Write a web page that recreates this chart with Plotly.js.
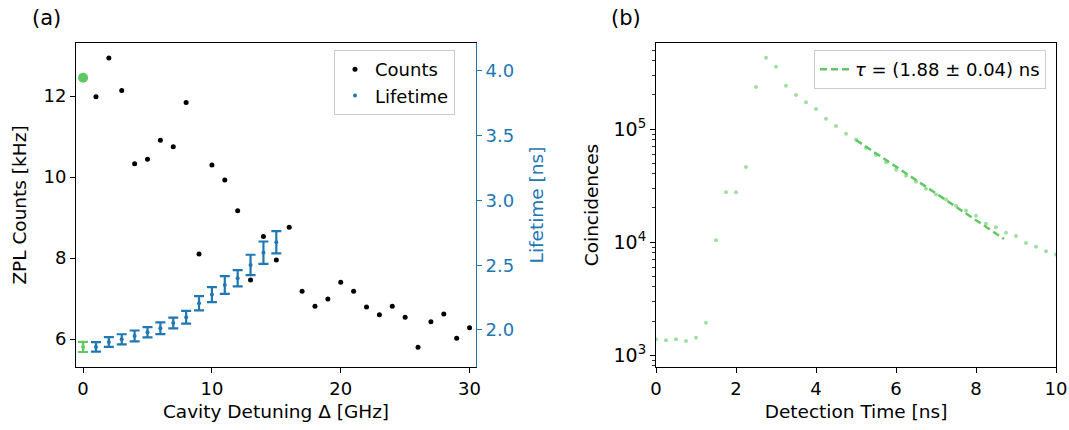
<!DOCTYPE html>
<html>
<head>
<meta charset="utf-8">
<script src="https://cdn.plot.ly/plotly-3.0.1.min.js"></script>
<style>
html,body{margin:0;padding:0;background:#fff;}
#chart{width:1069px;height:430px;}
</style>
</head>
<body>
<div id="chart"></div>
<script>
// ---------- Panel (a) data ----------
const detuning = [1,2,3,4,5,6,7,8,9,10,11,12,13,14,15,16,17,18,19,20,21,22,23,24,25,26,27,28,29,30];
const counts = [11.98,12.94,12.14,10.33,10.44,10.91,10.75,11.84,8.10,10.30,9.93,9.17,7.46,8.53,7.95,8.76,7.18,6.81,6.99,7.40,7.18,6.79,6.60,6.81,6.54,5.80,6.43,6.62,6.02,6.28];
const lifetimeDetuning = [1,2,3,4,5,6,7,8,9,10,11,12,13,14,15];
const lifetime = [1.869,1.907,1.928,1.954,1.982,2.013,2.054,2.098,2.206,2.273,2.347,2.399,2.502,2.597,2.677];
const lifetimeErr = [0.037,0.037,0.039,0.042,0.040,0.045,0.041,0.049,0.055,0.058,0.068,0.063,0.079,0.086,0.086];
const refDetuning = [0];
const refCounts = [12.45];
const refLifetime = [1.869];
const refLifetimeErr = [0.039];

// ---------- Panel (b) data ----------
const detTime = [0,0.25,0.5,0.75,1,1.25,1.5,1.75,2,2.25,2.5,2.75,3,3.25,3.5,3.75,4,4.25,4.5,4.75,5,5.25,5.5,5.75,6,6.25,6.5,6.75,7,7.25,7.5,7.75,8,8.25,8.5,8.75,9,9.25,9.5,9.75,10];
const coincidences = [1377,1349,1377,1330,1422,1932,10350,27540,27540,46130,235500,427600,355600,241500,200000,172200,150300,123300,106400,90780,80350,67920,58880,50820,43650,38640,34120,29650,26300,23820,20940,19050,17100,14520,13490,12080,11300,9795,9078,8279,7762];
const fitTime = [5.0,6.0,7.0,8.0,8.7];
const fitValues = [80000,46500,27000,15700,10650];

// ---------- Tick labels ----------
const countTicks = [6,8,10,12];
const lifetimeTicks = [2.0,2.5,3.0,3.5,4.0];
const detuningTicks = [0,10,20,30];
const timeTicks = [0,2,4,6,8,10];
const logTicks = [1000,10000,100000];
const logTickText = ['10<sup>3</sup>','10<sup>4</sup>','10<sup>5</sup>'];
const logMinor = [800,900,2000,3000,4000,5000,6000,7000,8000,9000,20000,30000,40000,50000,60000,70000,80000,90000,200000,300000,400000,500000];

const BLUE = '#1f77b4';
const GREEN = '#5ec962';
const FONT = 'DejaVu Sans, sans-serif';
const FS = 18;

const traces = [
  {x: detuning, y: counts, xaxis:'x', yaxis:'y', type:'scatter', mode:'markers', name:'Counts',
   marker:{color:'#000', size:5}, legend:'legend'},
  {x: refDetuning, y: refCounts, xaxis:'x', yaxis:'y', type:'scatter', mode:'markers', showlegend:false,
   marker:{color:GREEN, size:10}},
  {x: lifetimeDetuning, y: lifetime, xaxis:'x', yaxis:'y2', type:'scatter', mode:'markers', name:'Lifetime',
   marker:{color:BLUE, size:4}, error_y:{type:'data', array:lifetimeErr, visible:true, color:BLUE, thickness:2.2, width:5},
   legend:'legend'},
  {x: refDetuning, y: refLifetime, xaxis:'x', yaxis:'y2', type:'scatter', mode:'markers', showlegend:false,
   marker:{color:GREEN, size:4}, error_y:{type:'data', array:refLifetimeErr, visible:true, color:GREEN, thickness:2.2, width:5}},
  {x: detTime, y: coincidences, xaxis:'x2', yaxis:'y3', type:'scatter', mode:'markers', showlegend:false,
   marker:{color:GREEN, size:4, opacity:0.6}},
  {x: fitTime, y: fitValues, xaxis:'x2', yaxis:'y3', type:'scatter', mode:'lines', name:'<i>τ</i> = (1.88 ± 0.04) ns',
   line:{color:GREEN, width:2.5, dash:'7px,4px'}, legend:'legend2'}
];

const axCommon = {showgrid:false, zeroline:false, ticks:'outside', ticklen:5, tickwidth:1, tickcolor:'#000',
  showline:true, linecolor:'#000', linewidth:1, tickfont:{family:FONT, size:FS, color:'#000'}};

const layout = {
  width:1069, height:430,
  margin:{l:0, r:0, t:0, b:0},
  paper_bgcolor:'#fff', plot_bgcolor:'#fff',
  font:{family:FONT, size:FS, color:'#000'},
  xaxis: Object.assign({}, axCommon, {domain:[76/1069, 476/1069], range:[-0.55,30.5], anchor:'y', mirror:true,
    tickvals:detuningTicks, title:{text:'Cavity Detuning Δ [GHz]', font:{family:FONT, size:18.5}, standoff:7}}),
  yaxis: Object.assign({}, axCommon, {domain:[1-367/430, 1-43/430], range:[5.31,13.31], anchor:'x',
    tickvals:countTicks, title:{text:'ZPL Counts [kHz]', font:{family:FONT, size:18.5}, standoff:12}}),
  yaxis2: Object.assign({}, axCommon, {overlaying:'y', side:'right', anchor:'x', range:[1.714,4.216],
    tickvals:lifetimeTicks, tickformat:'.1f', linecolor:BLUE, tickcolor:BLUE, tickfont:{family:FONT, size:FS, color:BLUE},
    title:{text:'Lifetime [ns]', font:{family:FONT, size:18.5, color:BLUE}, standoff:16}}),
  xaxis2: Object.assign({}, axCommon, {domain:[656/1069, 1056/1069], range:[0,10], anchor:'y3', mirror:true,
    tickvals:timeTicks, title:{text:'Detection Time [ns]', font:{family:FONT, size:18.5}, standoff:7}}),
  yaxis3: Object.assign({}, axCommon, {domain:[1-367/430, 1-43/430], type:'log', range:[2.894,5.761], anchor:'x2', mirror:true,
    tickvals:logTicks, ticktext:logTickText, tickfont:{family:FONT, size:19, color:'#000'},
    minor:{tickvals:logMinor, ticks:'outside', ticklen:3, tickwidth:0.8, tickcolor:'#000', showgrid:false},
    title:{text:'Coincidences', font:{family:FONT, size:18.5}, standoff:10}}),
  legend:{x:334/1069, y:1-50/430, xanchor:'left', yanchor:'top', bgcolor:'rgba(255,255,255,0.8)',
    bordercolor:'#ccc', borderwidth:1, font:{family:FONT, size:18}, tracegroupgap:0, itemwidth:30},
  legend2:{x:814/1069, y:1-50/430, xanchor:'left', yanchor:'top', bgcolor:'rgba(255,255,255,0.8)',
    bordercolor:'#ccc', borderwidth:1, font:{family:FONT, size:18}},
  annotations:[
    {text:'(a)', xref:'paper', yref:'paper', x:46/1069, y:1-18/430, xanchor:'center', yanchor:'middle', showarrow:false,
     font:{family:FONT, size:21}},
    {text:'(b)', xref:'paper', yref:'paper', x:626/1069, y:1-18/430, xanchor:'center', yanchor:'middle', showarrow:false,
     font:{family:FONT, size:21}}
  ],
  showlegend:true
};

Plotly.newPlot('chart', traces, layout, {staticPlot:true, displayModeBar:false});
</script>
</body>
</html>
